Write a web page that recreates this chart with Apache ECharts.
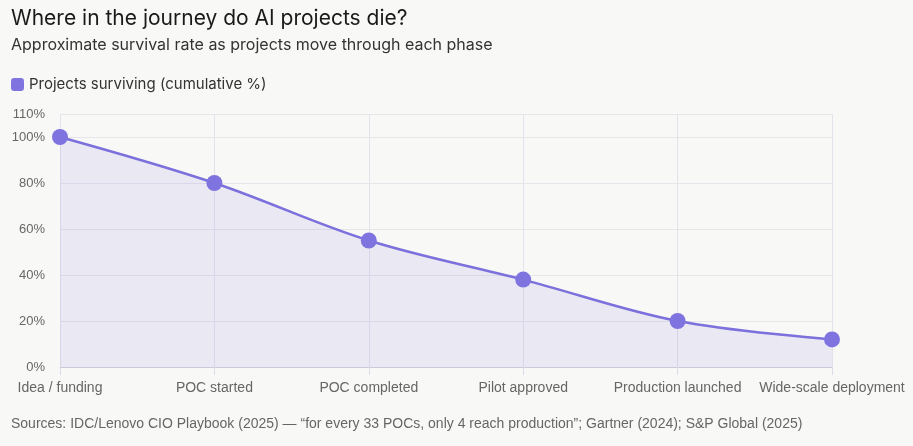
<!DOCTYPE html>
<html><head><meta charset="utf-8">
<script src="https://cdn.jsdelivr.net/npm/echarts@6/dist/echarts.min.js"></script>
<style>html,body{margin:0;padding:0;background:#f8f8f6;}#c{width:913px;height:446px;}</style>
</head><body><div id="c"></div>
<script>
const categories = ['Idea / funding','POC started','POC completed','Pilot approved','Production launched','Wide-scale deployment'];
const survival = [100, 80, 55, 38, 20, 12];
const seriesName = 'Projects surviving (cumulative %)';
const chart = echarts.init(document.getElementById('c'));
chart.setOption({
  backgroundColor:'#f8f8f6',
  animation:false,
  title:[
    {text:'Where in the journey do AI projects die?', left:6, top:3, textStyle:{fontFamily:'Inter',fontSize:21,fontWeight:'normal',color:'#1a1a1a'}},
    {text:'Approximate survival rate as projects move through each phase', left:6, top:32, textStyle:{fontFamily:'Inter',fontSize:16,fontWeight:'normal',color:'#333'}},
    {text:'Sources: IDC/Lenovo CIO Playbook (2025) — “for every 33 POCs, only 4 reach production”; Gartner (2024); S&P Global (2025)', left:6, top:412, textStyle:{fontFamily:'Liberation Sans',fontSize:14,fontWeight:'normal',color:'#666'}}
  ],
  legend:{left:6, top:72, icon:'roundRect', itemWidth:13, itemHeight:13, itemGap:6, textStyle:{fontFamily:'Inter',fontSize:15,color:'#333'}, data:[seriesName]},
  grid:{left:60, right:81, top:114, bottom:79},
  xAxis:{type:'category', data:categories, boundaryGap:false,
    axisLine:{lineStyle:{color:'#cbc8da'}},
    axisTick:{show:true,lineStyle:{color:'#dddbe6'},length:8},
    axisLabel:{interval:0,fontFamily:'Liberation Sans',fontSize:14,color:'#666',margin:14},
    splitLine:{show:true,lineStyle:{color:'#e4e2ea'}}},
  yAxis:{type:'value', min:0, max:110, interval:20,
    axisLabel:{formatter:'{value}%',fontFamily:'Liberation Sans',fontSize:13,color:'#666',margin:15},
    axisLine:{show:false}, axisTick:{show:false},
    splitLine:{lineStyle:{color:'#e6e5ea'}}},
  series:[{name:seriesName, type:'line', data:survival, smooth:0.35,
    symbol:'circle', symbolSize:16,
    itemStyle:{color:'#7f74df'},
    lineStyle:{color:'#7b70dc',width:2.5},
    areaStyle:{color:'rgba(123,112,220,0.16)'}}]
});
</script></body></html>
